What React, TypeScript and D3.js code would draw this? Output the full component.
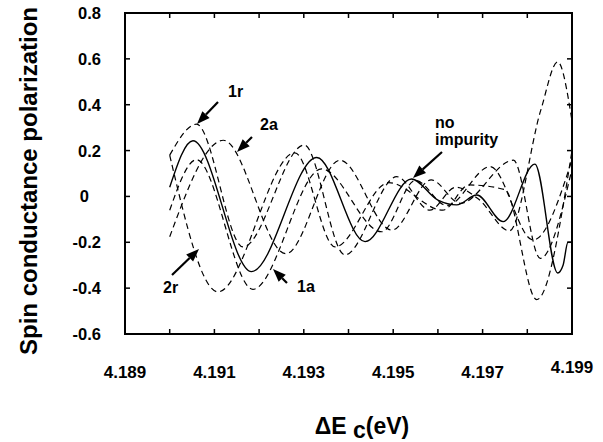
import React from "react";
import * as d3 from "d3";

const W = 603;
const H = 442;

const xTicksMinor = [4.189, 4.19, 4.191, 4.192, 4.193, 4.194, 4.195, 4.196, 4.197, 4.198, 4.199];
const xTickLabels = ["4.189", "4.191", "4.193", "4.195", "4.197", "4.199"];
const yTicks = [-0.6, -0.4, -0.2, 0, 0.2, 0.4, 0.6, 0.8];
const yTickLabels = ["-0.6", "-0.4", "-0.2", "0", "0.2", "0.4", "0.6", "0.8"];

// series: [ΔEc, polarization]
const noImpurity: [number, number][] = [
  [4.19, 0.04], [4.19052, 0.243], [4.19183, -0.328], [4.19329, 0.17], [4.19437, -0.197],
  [4.19541, 0.076], [4.196, -0.016], [4.19642, -0.037], [4.19687, 0.006], [4.19746, -0.11],
  [4.19817, 0.141], [4.19868, -0.334], [4.1988, -0.3], [4.19891, -0.2], [4.199, -0.2],
];
const imp1r: [number, number][] = [
  [4.19, 0.18], [4.1906, 0.315], [4.19164, -0.22], [4.19301, 0.224], [4.19392, -0.255],
  [4.19508, 0.086], [4.19582, -0.06], [4.1964, 0.04], [4.1969, -0.01], [4.1976, -0.15],
  [4.1983, 0.375], [4.19868, 0.587], [4.199, 0.33],
];
const imp2a: [number, number][] = [
  [4.19, -0.176], [4.1912, 0.245], [4.1926, -0.25], [4.19381, 0.158], [4.19497, -0.147],
  [4.19585, 0.072], [4.1965, -0.03], [4.19769, 0.158], [4.19829, -0.27], [4.199, 0.12],
];
const imp1a: [number, number][] = [
  [4.19, -0.06], [4.1906, 0.16], [4.19186, -0.405], [4.1934, 0.12], [4.19474, -0.154],
  [4.1955, 0.07], [4.1962, -0.04], [4.19717, 0.13], [4.19813, -0.19], [4.199, 0.16],
];
const imp2r: [number, number][] = [
  [4.19, 0.18], [4.19108, -0.416], [4.1928, 0.19], [4.1937, -0.22], [4.1949, 0.06],
  [4.19611, -0.06], [4.1967, 0.05], [4.1975, 0.03], [4.19821, -0.45], [4.199, 0.2],
];

const annotations = [
  { text: ["1r"], tx: 228, ty: 97, from: [218, 102], to: [197, 124] },
  { text: ["2a"], tx: 260, ty: 130, from: [252, 137], to: [237, 152] },
  { text: ["no", "impurity"], tx: 435, ty: 128, from: [442, 152], to: [413, 178] },
  { text: ["2r"], tx: 163, ty: 293, from: [172, 275], to: [199, 249] },
  { text: ["1a"], tx: 297, ty: 292, from: [287, 283], to: [273, 269] },
];

const FONT = "'Liberation Sans', Arial, Helvetica, sans-serif";

export default function App() {
  const left = 125, right = 572, top = 13, bottom = 334;
  const x = d3.scaleLinear().domain([4.189, 4.199]).range([left, right]);
  const y = d3.scaleLinear().domain([-0.6, 0.8]).range([bottom, top]);
  const line = d3
    .line<[number, number]>()
    .x((d) => x(d[0]))
    .y((d) => y(d[1]))
    .curve(d3.curveMonotoneX);

  const dashed = [imp1r, imp2a, imp1a, imp2r];

  const arrow = (a: any, i: number) => {
    const [x1, y1] = a.from;
    const [x2, y2] = a.to;
    const ang = Math.atan2(y2 - y1, x2 - x1);
    const L = 13, Wd = 5;
    const bx = x2 - L * Math.cos(ang), by = y2 - L * Math.sin(ang);
    const px = -Math.sin(ang) * Wd, py = Math.cos(ang) * Wd;
    return (
      <g key={"arr" + i}>
        <line x1={x1} y1={y1} x2={bx} y2={by} stroke="#000" strokeWidth={2.2} />
        <path d={`M${x2},${y2}L${bx + px},${by + py}L${bx - px},${by - py}Z`} fill="#000" />
      </g>
    );
  };

  return (
    <svg width={W} height={H} style={{ position: "absolute", left: 0, top: 0, background: "#fff" }} fontFamily={FONT}>
      <rect x={0} y={0} width={W} height={H} fill="#fff" />
      <defs>
        <clipPath id="plotclip">
          <rect x={left} y={top} width={right - left} height={bottom - top} />
        </clipPath>
      </defs>
      <g clipPath="url(#plotclip)" fill="none" stroke="#000">
        {dashed.map((s, i) => (
          <path key={i} d={line(s) || ""} strokeWidth={1.2} strokeDasharray="6,4" />
        ))}
        <path d={line(noImpurity) || ""} strokeWidth={1.4} />
      </g>
      {/* frame */}
      <rect x={left} y={top} width={right - left} height={bottom - top} fill="none" stroke="#000" strokeWidth={2} />
      {xTicksMinor.map((t, i) => (
        <g key={"xt" + i} stroke="#000" strokeWidth={1.5}>
          <line x1={x(t)} x2={x(t)} y1={bottom} y2={bottom - 5} />
          <line x1={x(t)} x2={x(t)} y1={top} y2={top + 5} />
        </g>
      ))}
      {yTicks.map((t, i) => (
        <g key={"yt" + i} stroke="#000" strokeWidth={1.5}>
          <line x1={left} x2={left + 5} y1={y(t)} y2={y(t)} />
          <line x1={right} x2={right - 5} y1={y(t)} y2={y(t)} />
        </g>
      ))}
      {xTickLabels.map((l, i) => (
        <text key={"xl" + i} x={x(+l)} y={l === "4.199" ? 373 : 378} textAnchor="middle" fontSize={17} fontWeight="bold">
          {l}
        </text>
      ))}
      {yTickLabels.map((l, i) => (
        <text key={"yl" + i} x={l.includes(".") ? 101 : 89} y={y(yTicks[i]) + 6} textAnchor="end" fontSize={16.5} fontWeight="bold">
          {l}
        </text>
      ))}
      <text transform={`translate(37,181) rotate(-90)`} textAnchor="middle" fontSize={24} fontWeight="bold">
        Spin conductance polarization
      </text>
      <text x={362} y={434} textAnchor="middle" fontSize={23} fontWeight="bold">
        ΔE <tspan dy={4}>c</tspan><tspan dy={-4}>(eV)</tspan>
      </text>
      {annotations.map((a, i) => (
        <g key={"an" + i}>
          {a.text.map((t, j) => (
            <text key={j} x={a.tx} y={a.ty + j * 17} fontSize={16} fontWeight="bold">
              {t}
            </text>
          ))}
          {arrow(a, i)}
        </g>
      ))}
    </svg>
  );
}
